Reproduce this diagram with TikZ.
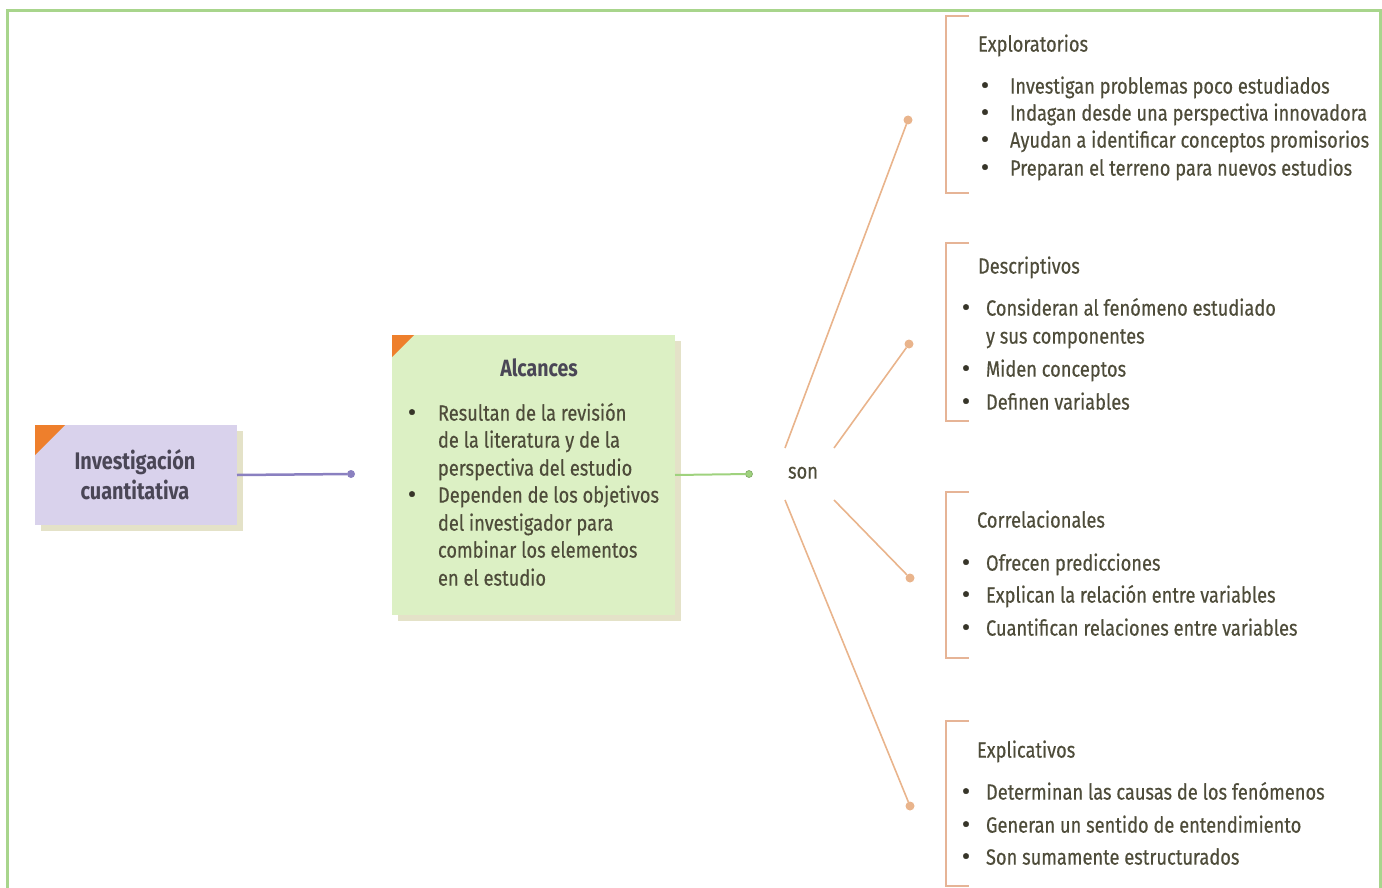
\documentclass[tikz,border=0pt]{standalone}
\usepackage{fontspec}
\setmainfont{Fira Sans}[FakeStretch=0.83]
\newfontfamily\txfont{Fira Sans}[FakeStretch=0.83, FakeBold=0.4]
\newfontfamily\bulfont{Fira Sans}[FakeBold=1.2]
\usetikzlibrary{shadows}
\definecolor{frameg}{HTML}{A8D58C}
\definecolor{txt}{HTML}{4E4C3A}
\definecolor{ttl}{HTML}{4A4656}
\definecolor{purfill}{HTML}{D9D2EC}
\definecolor{grfill}{HTML}{DCF0C4}
\definecolor{corner}{HTML}{EE7F2C}
\definecolor{purline}{HTML}{8A80C0}
\definecolor{grline}{HTML}{9FD27E}
\definecolor{orline}{HTML}{E9B48C}
\definecolor{brk}{HTML}{E6B496}
\definecolor{shad}{HTML}{E4E2C8}
\tikzset{
  every node/.style={inner sep=0pt, outer sep=0pt},
  tx/.style={anchor=mid west, yshift=-4pt, text=txt, font=\txfont\fontsize{22}{24}\selectfont},
  bul/.style={anchor=mid, yshift=-4pt, text=txt!70!black, font=\bulfont\fontsize{25}{26}\selectfont},
  hd/.style={anchor=mid west, yshift=-4pt, text=txt, font=\txfont\fontsize{22}{24}\selectfont},
  boxp/.style={fill=purfill, draw=none, drop shadow={shadow xshift=6pt, shadow yshift=-6pt, fill=shad, opacity=1}},
  boxg/.style={fill=grfill, draw=none, drop shadow={shadow xshift=6pt, shadow yshift=-6pt, fill=shad, opacity=1}},
  dotp/.style={circle, fill=purline, minimum size=8pt},
  dotg/.style={circle, fill=grline, draw=grline!80!black, line width=0.6pt, minimum size=7pt},
  doto/.style={circle, fill=orline, minimum size=9pt},
  orl/.style={draw=orline, line width=1.6pt},
  brkl/.style={draw=brk, line width=1.6pt},
}
\begin{document}
\begin{tikzpicture}[x=1pt,y=-1pt]
\useasboundingbox (0,0) rectangle (1382,888);
% frame
\draw[frameg, line width=3pt] (7.5,890) -- (7.5,11) -- (1380.5,11) -- (1380.5,890);

% Investigacion box
\node[boxp, minimum width=202pt, minimum height=100pt] (inv) at (136,475) {};
\fill[corner] (inv.north west) -- ++(30,0) -- ++(-30,30) -- cycle;
\node[text=ttl, font=\fontsize{24}{30}\bfseries\selectfont, align=center] (invt) at (135,475) {Investigación\\cuantitativa};
\node[dotp] (invdot) at (351,474) {};
\draw[purline, line width=2.5pt] (inv.east) -- (invdot);

% Alcances box
\node[boxg, minimum width=283pt, minimum height=280pt] (alc) at (533.5,475) {};
\fill[corner] (alc.north west) -- ++(22,0) -- ++(-22,22) -- cycle;
\node[anchor=mid, yshift=-4pt, text=ttl, font=\fontsize{23.5}{24}\bfseries\selectfont] (alct) at (539,370) {Alcances};
\node[bul] (ab1) at (412,414) {•};
\node[tx] (a1) at (438,414) {Resultan de la revisión};
\node[tx] (a2) at (438,441) {de la literatura y de la};
\node[tx] (a3) at (438,469) {perspectiva del estudio};
\node[bul] (ab2) at (412,496) {•};
\node[tx] (a4) at (438,496) {Dependen de los objetivos};
\node[tx] (a5) at (438,524) {del investigador para};
\node[tx] (a6) at (438,551) {combinar los elementos};
\node[tx] (a7) at (438,579) {en el estudio};
\node[dotg] (alcdot) at (749,474) {};
\draw[grline, line width=2pt] (alc.east) -- (alcdot);

% son
\node[anchor=mid, yshift=-4pt, text=txt, font=\txfont\fontsize{22}{24}\selectfont] (son) at (803,472) {son};
\coordinate (s1) at (785,448);
\coordinate (s2) at (834,448);
\coordinate (s3) at (834,500);
\coordinate (s4) at (785,500);
\node[doto] (d1) at (908,120) {};
\node[doto] (d2) at (909,344) {};
\node[doto] (d3) at (910,578) {};
\node[doto] (d4) at (910,806) {};
\draw[orl] (s1) -- (d1);
\draw[orl] (s2) -- (d2);
\draw[orl] (s3) -- (d3);
\draw[orl] (s4) -- (d4);

% brackets
\draw[brkl] (969,16) -- (946,16) -- (946,193) -- (969,193);
\draw[brkl] (969,243) -- (946,243) -- (946,421) -- (969,421);
\draw[brkl] (969,492) -- (946,492) -- (946,658) -- (969,658);
\draw[brkl] (969,721) -- (946,721) -- (946,886) -- (969,886);

% Exploratorios
\node[hd] (h1) at (978,45) {Exploratorios};
\node[bul] (e1b) at (985,87) {•};
\node[tx] (e1) at (1010,87) {Investigan problemas poco estudiados};
\node[bul] (e2b) at (985,114) {•};
\node[tx] (e2) at (1010,114) {Indagan desde una perspectiva innovadora};
\node[bul] (e3b) at (985,141) {•};
\node[tx] (e3) at (1010,141) {Ayudan a identificar conceptos promisorios};
\node[bul] (e4b) at (985,169) {•};
\node[tx] (e4) at (1010,169) {Preparan el terreno para nuevos estudios};

% Descriptivos
\node[hd] (h2) at (978,267) {Descriptivos};
\node[bul] (f1b) at (966,309) {•};
\node[tx] (f1) at (986,309) {Consideran al fenómeno estudiado};
\node[tx] (f1c) at (986,337) {y sus componentes};
\node[bul] (f2b) at (966,370) {•};
\node[tx] (f2) at (986,370) {Miden conceptos};
\node[bul] (f3b) at (966,403) {•};
\node[tx] (f3) at (986,403) {Definen variables};

% Correlacionales
\node[hd] (h3) at (977,521) {Correlacionales};
\node[bul] (g1b) at (966,564) {•};
\node[tx] (g1) at (986,564) {Ofrecen predicciones};
\node[bul] (g2b) at (966,596) {•};
\node[tx] (g2) at (986,596) {Explican la relación entre variables};
\node[bul] (g3b) at (966,629) {•};
\node[tx] (g3) at (986,629) {Cuantifican relaciones entre variables};

% Explicativos
\node[hd] (h4) at (977,751) {Explicativos};
\node[bul] (k1b) at (966,793) {•};
\node[tx] (k1) at (986,793) {Determinan las causas de los fenómenos};
\node[bul] (k2b) at (966,826) {•};
\node[tx] (k2) at (986,826) {Generan un sentido de entendimiento};
\node[bul] (k3b) at (966,858) {•};
\node[tx] (k3) at (986,858) {Son sumamente estructurados};
\end{tikzpicture}
\end{document}
